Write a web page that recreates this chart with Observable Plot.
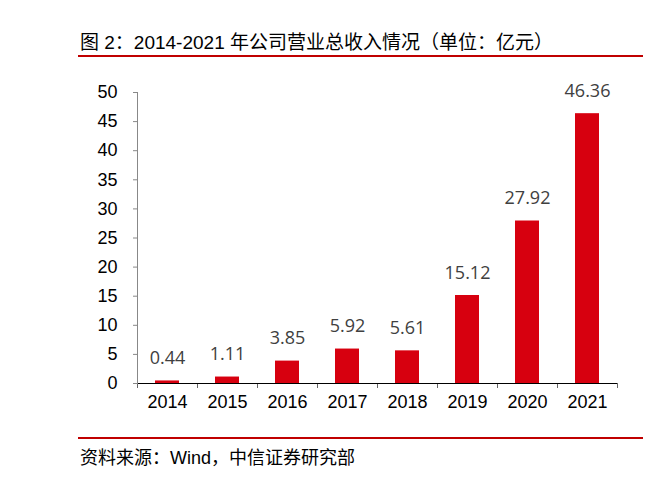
<!DOCTYPE html>
<html><head><meta charset="utf-8">
<script src="https://cdn.jsdelivr.net/npm/d3@7"></script>
<script src="https://cdn.jsdelivr.net/npm/@observablehq/plot@0.6"></script>
<style>
body{margin:0;background:#fff;}
#wrap{position:relative;width:659px;height:492px;background:#fff;overflow:hidden;font-family:"Liberation Sans","Noto Sans CJK SC",sans-serif;}
#chart{position:absolute;left:0;top:60px;}
#title{position:absolute;left:80px;top:32px;font-size:19px;color:#000;font-family:"Liberation Sans","Noto Sans CJK SC",sans-serif;white-space:nowrap;line-height:22px;}
#tline{position:absolute;left:78px;top:55px;width:565px;height:2px;background:#c00000;}
#sline{position:absolute;left:78px;top:437px;width:565px;height:2px;background:#c00000;}
#source{position:absolute;left:80px;top:447px;font-size:18px;color:#000;white-space:nowrap;line-height:22px;}
</style></head>
<body>
<div id="wrap">
<div id="chart"></div>
<div id="title">图 2：2014-2021 年公司营业总收入情况（单位：亿元）</div>
<div id="tline"></div>
<div id="sline"></div>
<div id="source">资料来源：Wind，中信证券研究部</div>
</div>
<script>
const years = ["2014","2015","2016","2017","2018","2019","2020","2021"];
const revenue = [0.44, 1.11, 3.85, 5.92, 5.61, 15.12, 27.92, 46.36];
const labels = ["0.44","1.11","3.85","5.92","5.61","15.12","27.92","46.36"];
const yTicks = [0,5,10,15,20,25,30,35,40,45,50];

const data = years.map((y,i)=>({i, year:y, value:revenue[i], label:labels[i]}));

const chart = Plot.plot({
  width: 659,
  height: 370,
  marginLeft: 137,
  marginRight: 42,
  marginTop: 32,
  marginBottom: 47,
  style: {fontFamily: '"Liberation Sans", Arial, sans-serif', fontSize: "18px", color: "#000", background: "transparent"},
  x: {type: "linear", domain: [0, years.length], axis: null, label: null},
  y: {domain: [0, 50], axis: null, label: null},
  marks: [
    Plot.rectY(data, {x1: d => d.i + 0.3, x2: d => d.i + 0.7, y: "value", fill: "#d7000f"}),
    Plot.text(data, {x: d => d.i + 0.5, y: "value", text: "label", lineAnchor: "bottom", dy: -17,
      fill: "#404040", fontSize: 18, fontFamily: '"Open Sans", sans-serif'}),
    Plot.axisY({ticks: yTicks, tickSize: 4, tickPadding: 16, stroke: "#888", tickFormat: d => d, fontSize: 18, fill: "#000", label: null}),
    Plot.axisX({ticks: d3.range(0, years.length + 1), tickSize: 5, tickFormat: () => "", stroke: "#666", label: null}),
    Plot.axisX({ticks: d3.range(0, years.length).map(i => i + 0.5), tickSize: 0, tickPadding: 12,
      tickFormat: d => years[Math.round(d - 0.5)], fontSize: 18, fill: "#000", label: null}),
    Plot.ruleY([0], {stroke: "#000"}),
    Plot.frame({anchor: "left", stroke: "#888"})
  ]
});
document.getElementById("chart").appendChild(chart);
</script>
</body></html>
